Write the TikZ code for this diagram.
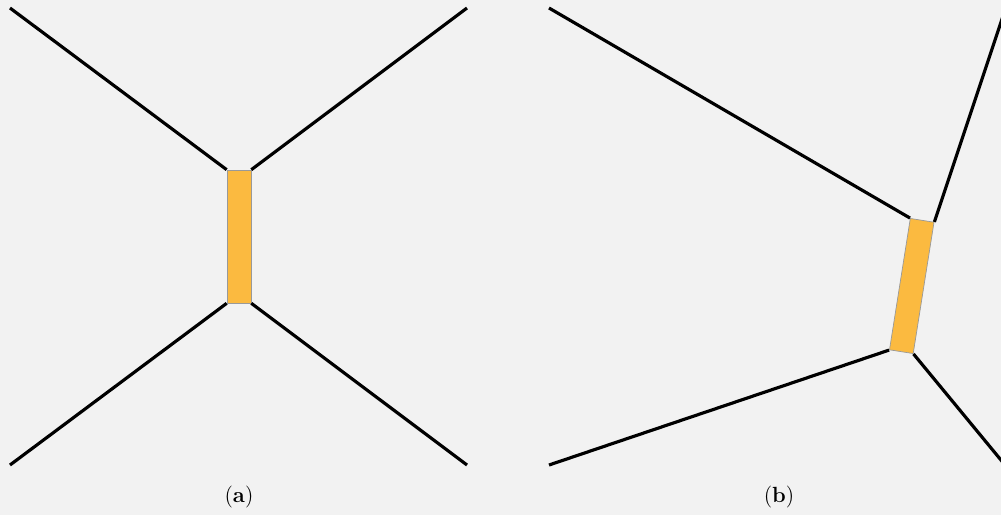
\documentclass[tikz,border=0pt]{standalone}
\usepackage{tikz}
\definecolor{bgray}{RGB}{242,242,242}
\definecolor{barfill}{RGB}{251,186,64}
\begin{document}
\begin{tikzpicture}[x=0.02cm, y=-0.02cm, thick]
        \tikzset{bar/.style={rectangle, draw=gray!80, line width=0.4pt, fill=barfill, inner sep=0pt, minimum width=0.48cm, minimum height=2.66cm},
                 leg/.style={line width=1.8pt, black},
                 sublabel/.style={font=\fontsize{12.5}{14}\selectfont}}
        % Background
        \fill[bgray] (0,0) rectangle (1001,515);
        \useasboundingbox (0,0) rectangle (1001,515);
        \clip (0,0) rectangle (1001,515);

        % Nodes (a)
        \node (Ba) [bar] at (239,236.5) {};
        \coordinate (A1) at (10,8);
        \coordinate (A2) at (467,8);
        \coordinate (A3) at (10,465);
        \coordinate (A4) at (467,465);

        % Nodes (b)
        \node (Bb) [bar, rotate=-9] at (911.75,286) {};
        \coordinate (C1) at (549,8);
        \coordinate (C2) at (1010,-5);
        \coordinate (C3) at (549,465);
        \coordinate (C4) at (1010,471);

        % Edges (a)
        \draw[leg] (A1) -- (Ba.north west);
        \draw[leg] (A2) -- (Ba.north east);
        \draw[leg] (A3) -- (Ba.south west);
        \draw[leg] (A4) -- (Ba.south east);

        % Edges (b)
        \draw[leg] (C1) -- (Bb.north west);
        \draw[leg] (C2) -- (Bb.north east);
        \draw[leg] (C3) -- (Bb.south west);
        \draw[leg] (C4) -- (Bb.south east);

        % Labels
        \node (La) [sublabel] at (239,497) {(\textbf{a})};
        \node (Lb) [sublabel] at (779,497) {(\textbf{b})};
    \end{tikzpicture}
\end{document}
